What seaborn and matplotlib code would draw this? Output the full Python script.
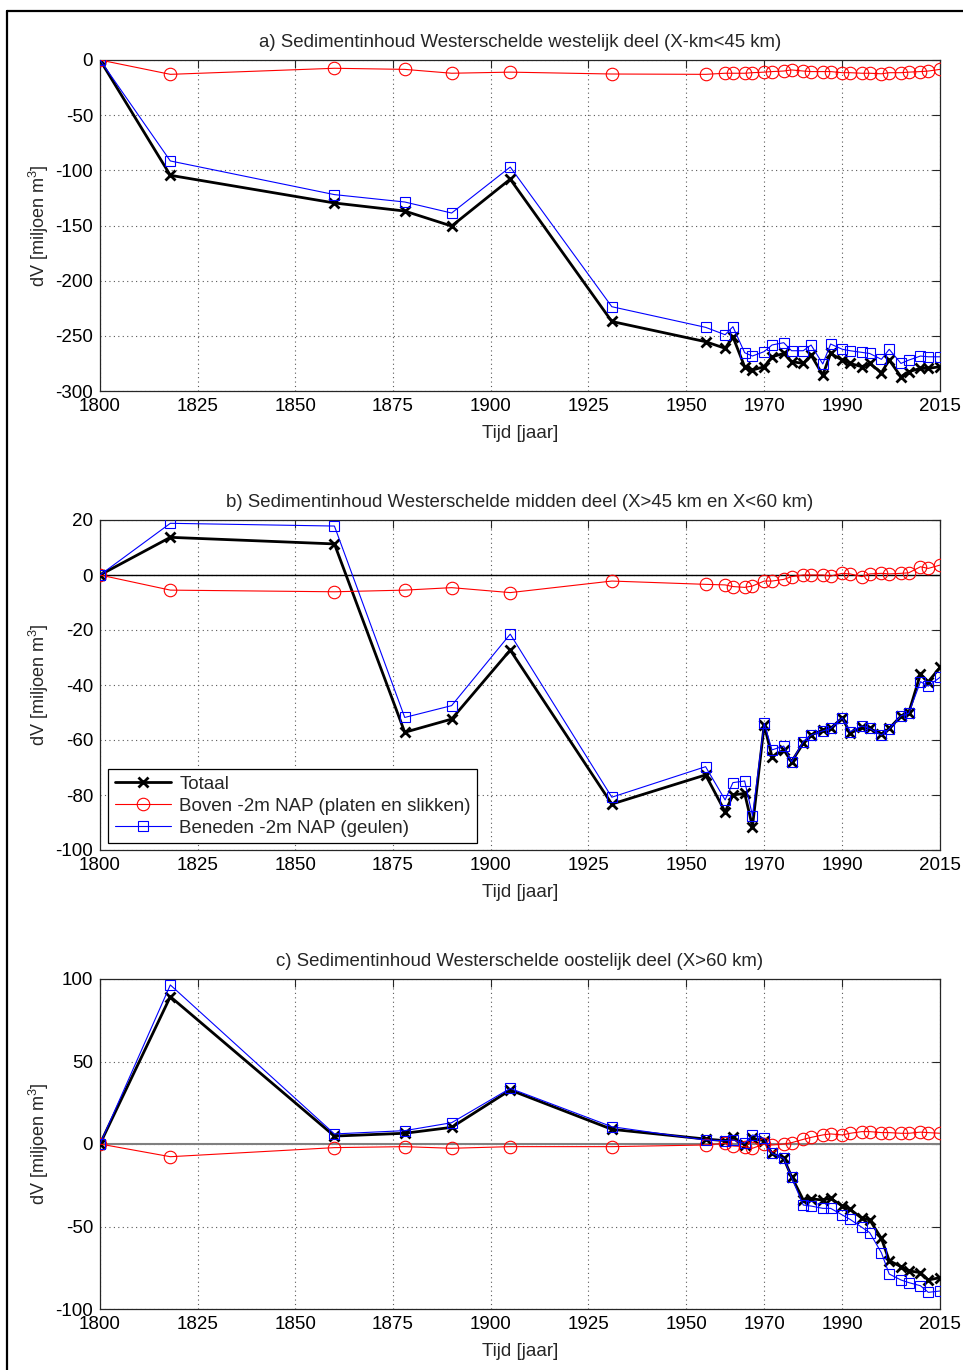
import matplotlib
matplotlib.use("Agg")
import matplotlib.pyplot as plt
from matplotlib.lines import Line2D
import seaborn as sns
import pandas as pd

# Survey years (shared by all series)
years = [1800, 1818, 1860, 1878, 1890, 1905, 1931,
         1955, 1960, 1962, 1965, 1967, 1970, 1972, 1975, 1977, 1980,
         1982, 1985, 1987, 1990, 1992, 1995, 1997, 2000, 2002, 2005,
         2007, 2010, 2012, 2015]

# a) western part (X-km < 45 km), million m3
a_totaal = [0, -104.5, -129.6, -136.9, -150.5, -108, -237,
            -255.3, -261.3, -251, -278, -281, -278, -269, -266, -273.4, -275,
            -267.4, -285.5, -266, -272, -275, -278, -275, -283.4, -272, -287,
            -282.5, -279.5, -279.5, -278]
a_boven = [0, -13, -7.5, -8.5, -12, -11, -12.7,
           -13, -12, -12, -12, -11.5, -11, -10.5, -10, -9, -10,
           -10.5, -10.5, -10.5, -11.5, -11.5, -12, -12, -12.5, -11.5, -11.5,
           -11, -10.5, -10, -8.5]
a_beneden = [0, -91.5, -122, -128.7, -138.7, -97, -223.6,
             -242.3, -249, -241.7, -265.3, -268.3, -264.3, -258.3, -256.2, -263.5, -263.5,
             -258.3, -275.5, -257.4, -262.2, -263.5, -265, -266, -271.3, -262.2, -275,
             -272, -268.3, -269, -269]

# b) middle part (45 < X < 60 km)
b_totaal = [0, 13.7, 11.3, -57.2, -52.4, -27.3, -83.3,
            -72.7, -86.1, -80, -79.4, -91.5, -54.5, -66.1, -63.6, -67.9, -61.2,
            -58.2, -56.4, -55.8, -51.9, -57.6, -55.4, -55.8, -57.9, -55.8, -51.3,
            -50.1, -36, -38.8, -33.6]
b_boven = [0, -5.5, -6.1, -5.5, -4.6, -6.4, -2.2,
           -3.4, -3.6, -4.2, -4.5, -4, -2.2, -2.2, -1.6, -0.6, 0,
           0, 0, -0.4, 0.6, 0.4, -0.6, 0.4, 0.6, 0.4, 0.6,
           0.8, 3.0, 2.4, 3.6]
b_beneden = [0, 18.8, 17.8, -51.8, -47.5, -21.5, -80.8,
             -69.7, -81.8, -75.5, -74.9, -87.5, -53.9, -63.6, -62.2, -67.9, -60.6,
             -58.2, -56.7, -55.8, -51.9, -57, -54.9, -55.8, -58.2, -56, -51.2,
             -50.3, -38.8, -40.4, -37.2]

# c) eastern part (X > 60 km)
c_totaal = [0, 89.3, 4.8, 6.5, 10.1, 32.7, 8.9,
            3, 2, 4.4, -0.6, 3.4, 2, -5.7, -8.7, -19.8, -33.9,
            -33.3, -33.9, -32.9, -37.6, -39.6, -45, -46, -57.2, -70.7, -74.3,
            -76.8, -78, -82.4, -81]
c_boven = [0, -7.7, -2.2, -1.6, -2.6, -1.6, -1.6,
           -0.6, 0.4, -1.2, -1.6, -2.6, 0, -0.6, 0, 0.8, 2.8,
           4, 5.5, 6.1, 5.5, 6.5, 7.5, 7.5, 6.9, 6.9, 6.5,
           6.5, 7.2, 6.9, 6.5]
c_beneden = [0, 96.4, 6.1, 8.1, 12.9, 33.7, 10.5,
             2.4, 2, 2.4, 0.4, 5.5, 3.4, -5.7, -8.7, -20.2, -37,
             -37.6, -39, -39, -43, -45.7, -50.5, -53.7, -65.9, -78.8, -82.4,
             -84, -85.9, -89.9, -89.1]

titles = ["a) Sedimentinhoud Westerschelde westelijk deel (X-km<45 km)",
          "b) Sedimentinhoud Westerschelde midden deel (X>45 km en X<60 km)",
          "c) Sedimentinhoud Westerschelde oostelijk deel (X>60 km)"]
legend_labels = ["Totaal", "Boven -2m NAP (platen en slikken)",
                 "Beneden -2m NAP (geulen)"]
x_ticks = [1800, 1825, 1850, 1875, 1900, 1925, 1950, 1970, 1990, 2015]
y_ticks = [list(range(-300, 1, 50)), list(range(-100, 21, 20)),
           list(range(-100, 101, 50))]

sns.set_style("white")
plt.rcParams["font.family"] = ["Liberation Sans", "DejaVu Sans"]
plt.rcParams["mathtext.fontset"] = "custom"
plt.rcParams["mathtext.rm"] = "Liberation Sans"
plt.rcParams["axes.unicode_minus"] = False

W, H = 963, 1370
fig = plt.figure(figsize=(W / 100, H / 100), dpi=100)

# axes boxes in pixels: (left, top, right, bottom)
boxes = [(100, 60, 940, 391), (100, 520, 940, 850), (100, 979, 940, 1309)]
panels = [(a_totaal, a_boven, a_beneden),
          (b_totaal, b_boven, b_beneden),
          (c_totaal, c_boven, c_beneden)]
zero_line = [None, "black", "0.5"]

styles = [
    dict(color="black", linewidth=2.0, marker="x", markersize=7,
         markeredgewidth=2.0, markeredgecolor="black", zorder=3),
    dict(color="#ff0000", linewidth=0.8, marker="o", markersize=9,
         markeredgewidth=0.8, markeredgecolor="#ff0000",
         markerfacecolor="none", zorder=4),
    dict(color="#0000ff", linewidth=0.8, marker="s", markersize=7.5,
         markeredgewidth=0.8, markeredgecolor="#0000ff",
         markerfacecolor="none", zorder=5),
]

for i, (box, series) in enumerate(zip(boxes, panels)):
    l, t, r, b = box
    ax = fig.add_axes([l / W, 1 - b / H, (r - l) / W, (b - t) / H])
    if zero_line[i] is not None:
        ax.axhline(0, color=zero_line[i], linewidth=1.0 if i == 1 else 1.5,
                   zorder=2)
    for vals, st, lab in zip(series, styles, legend_labels):
        df = pd.DataFrame({"jaar": years, "dV": vals})
        sns.lineplot(data=df, x="jaar", y="dV", ax=ax, errorbar=None,
                     label=lab, legend=False, **st)
    ax.set_xlim(1800, 2015)
    ax.set_ylim(y_ticks[i][0], y_ticks[i][-1])
    ax.set_xticks(x_ticks)
    ax.set_yticks(y_ticks[i])
    ax.grid(True, linestyle=(0, (1, 3)), color="0.35", linewidth=0.8)
    ax.tick_params(direction="in", length=6, width=0.8, labelsize=13.5,
                   top=True, right=True, pad=5, colors="0.15",
                   labelcolor="black")
    for sp in ax.spines.values():
        sp.set_color("0.15")
        sp.set_linewidth(0.9)
    ax.set_title(titles[i], fontsize=13.4, pad=9.5)
    ax.set_xlabel("Tijd [jaar]", fontsize=13.5, labelpad=7)
    ax.set_ylabel("dV [miljoen m$^3$]", fontsize=13, labelpad=3)
    if i == 1:
        handles = [Line2D([], [], **{k: v for k, v in st.items() if k != "zorder"})
                   for st in styles]
        leg = ax.legend(handles, legend_labels, loc="lower left",
                        bbox_to_anchor=(0.0095, 0.021), borderaxespad=0,
                        fontsize=13.5, handlelength=3.0, handletextpad=0.45,
                        labelspacing=0.25, fancybox=False, framealpha=1,
                        edgecolor="black", borderpad=0.35)
        leg.get_frame().set_linewidth(0.9)

# outer frame around the figure
fig.add_artist(Line2D([7 / W, 7 / W], [0, 1 - 11 / H], color="black",
                      linewidth=1.6, transform=fig.transFigure))
fig.add_artist(Line2D([7 / W, 1], [1 - 11 / H, 1 - 11 / H], color="black",
                      linewidth=1.6, transform=fig.transFigure))

fig.savefig("out.png", dpi=100, facecolor="white")
